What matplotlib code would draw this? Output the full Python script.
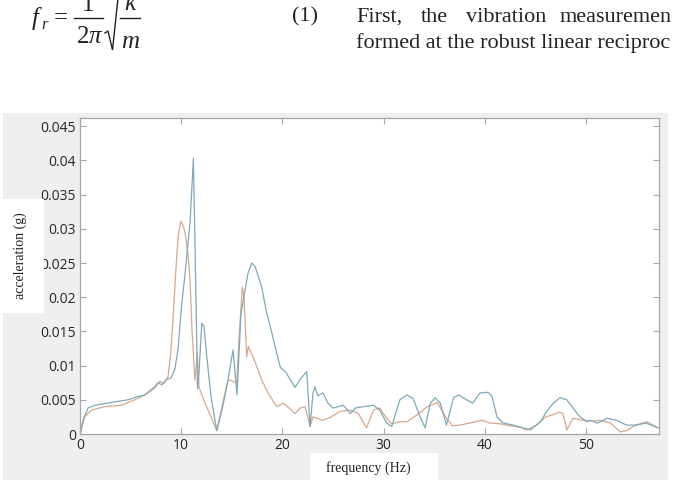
import matplotlib
matplotlib.use("Agg")
import matplotlib.pyplot as plt
from matplotlib.patches import Rectangle
from matplotlib.lines import Line2D

# ---- data ----
freq_blue = [0.0, 0.3, 0.79, 1.45, 3.06, 4.74, 5.73, 6.39, 7.38, 7.71, 8.1, 8.5, 8.99, 9.36,
             9.68, 10.05, 10.35, 10.6, 10.87, 11.2, 11.46, 11.61, 11.76, 12.03, 12.25, 12.55,
             12.94, 13.51, 14.03, 14.62, 15.12, 15.51, 15.9, 16.3, 16.6, 16.97, 17.3, 17.95,
             18.4, 18.95, 19.4, 19.8, 20.3, 20.75, 21.25, 21.74, 22.4, 22.73, 23.02, 23.2,
             23.5, 24.0, 24.5, 25.0, 26.0, 26.7, 27.2, 28.0, 29.0, 29.6, 30.3, 30.8, 31.6,
             32.3, 32.9, 33.6, 34.1, 34.6, 35.1, 35.6, 36.2, 36.9, 37.4, 38.2, 38.8, 39.5,
             40.3, 40.7, 41.2, 41.8, 42.8, 43.5, 44.5, 45.5, 46.1, 46.7, 47.4, 48.1, 48.6,
             49.4, 50.1, 50.4, 51.1, 52.1, 53.0, 54.0, 55.0, 55.9, 57.1]
acc_blue = [0.0, 0.002, 0.0038, 0.0042, 0.0046, 0.005, 0.0055, 0.0057, 0.0069, 0.0075, 0.0072,
            0.0079, 0.0082, 0.0094, 0.0123, 0.019, 0.023, 0.0269, 0.0308, 0.0403, 0.0196,
            0.0066, 0.009, 0.0162, 0.0157, 0.011, 0.0055, 0.0005, 0.0035, 0.0079, 0.0123,
            0.0057, 0.0175, 0.021, 0.0235, 0.025, 0.0245, 0.0215, 0.018, 0.0148, 0.012, 0.0097,
            0.0091, 0.008, 0.0068, 0.008, 0.0091, 0.0011, 0.006, 0.0069, 0.0056, 0.006,
            0.0045, 0.0038, 0.0042, 0.003, 0.0038, 0.004, 0.0042, 0.0035, 0.0016, 0.0011,
            0.005, 0.0057, 0.0052, 0.0025, 0.0009, 0.0045, 0.0053, 0.0045, 0.0013, 0.0053,
            0.0057, 0.005, 0.0045, 0.006, 0.0061, 0.0055, 0.0025, 0.0016, 0.0013, 0.001,
            0.0006, 0.0018, 0.0033, 0.0044, 0.0053, 0.005, 0.004, 0.0025, 0.0018, 0.002,
            0.0016, 0.0023, 0.002, 0.0013, 0.0013, 0.0016, 0.0009]

freq_orange = [0.0, 0.46, 1.12, 2.44, 4.08, 5.4, 6.39, 7.38, 7.88, 8.3, 8.7, 8.96, 9.19, 9.45,
               9.7, 9.98, 10.18, 10.38, 10.7, 10.87, 11.07, 11.36, 11.59, 11.76, 12.35, 12.94,
               13.51, 14.03, 14.62, 15.02, 15.48, 15.71, 16.04, 16.2, 16.47, 16.63, 17.3,
               17.95, 18.58, 19.44, 20.06, 20.65, 21.25, 21.74, 22.23, 22.73, 23.02, 24.0,
               24.7, 25.7, 26.7, 27.5, 28.3, 29.0, 29.6, 30.2, 30.8, 31.6, 32.3, 33.3, 34.3,
               35.3, 36.1, 36.8, 37.5, 38.5, 39.7, 40.5, 41.5, 42.5, 43.5, 44.1, 45.0, 46.0,
               46.7, 47.4, 47.7, 48.1, 48.7, 49.7, 50.7, 51.4, 52.4, 53.4, 54.0, 54.9, 56.0,
               57.1]
acc_orange = [0.0, 0.0025, 0.0035, 0.004, 0.0042, 0.005, 0.0057, 0.0067, 0.0077, 0.0074,
              0.0084, 0.0118, 0.0167, 0.0235, 0.029, 0.0311, 0.0305, 0.0294, 0.0259, 0.0225,
              0.015, 0.0079, 0.0118, 0.0068, 0.0045, 0.0025, 0.0005, 0.004, 0.0079, 0.0078,
              0.0074, 0.014, 0.0215, 0.02, 0.0113, 0.0128, 0.0105, 0.0079, 0.006, 0.004,
              0.0045, 0.0038, 0.003, 0.0038, 0.004, 0.0011, 0.0025, 0.002, 0.0024, 0.0033,
              0.0035, 0.003, 0.0009, 0.0035, 0.0038, 0.0025, 0.0015, 0.0018, 0.0018, 0.0028,
              0.004, 0.0046, 0.0025, 0.0012, 0.0013, 0.0016, 0.002, 0.0016, 0.0015, 0.0012,
              0.001, 0.0006, 0.0012, 0.0025, 0.0028, 0.0032, 0.003, 0.0006, 0.0023, 0.002,
              0.0019, 0.002, 0.0016, 0.0003, 0.0005, 0.0013, 0.0018, 0.0009]

x_ticks = [0, 10, 20, 30, 40, 50]
y_ticks = [0, 0.005, 0.01, 0.015, 0.02, 0.025, 0.03, 0.035, 0.04, 0.045]
y_tick_labels = ['0', '0.005', '0.01', '0.015', '0.02', '0.025', '0.03', '0.035', '0.04', '0.045']

W, H = 673, 490
fig = plt.figure(figsize=(W / 100, H / 100), dpi=100)
fig.patch.set_facecolor('white')
TXT = '#222222'


def fx(px):
    return px / W


def fy(py):
    return 1 - py / H


def box(x0, y0, x1, y1, color, z):
    fig.patches.append(Rectangle((fx(x0), fy(y1)), (x1 - x0) / W, (y1 - y0) / H,
                                 transform=fig.transFigure, facecolor=color,
                                 edgecolor='none', zorder=z))


def pline(xs, ys, lw=1.0):
    fig.lines.append(Line2D([fx(v) for v in xs], [fy(v) for v in ys], transform=fig.transFigure,
                            color=TXT, lw=lw, solid_joinstyle='miter'))


# grey figure panel
box(3, 113, 668, 480, '#efefef', -5)

ax = fig.add_axes([fx(80), fy(434), 579 / W, 316 / H])
ax.set_facecolor('white')
ax.plot(freq_orange, acc_orange, color='#d6a98d', lw=0.9)
ax.plot(freq_blue, acc_blue, color='#7fa9b8', lw=0.9)
ax.set_xlim(0, 57.2)
ax.set_ylim(0, 0.0462)
ax.set_xticks(x_ticks)
ax.set_yticks(y_ticks)
ax.set_yticklabels(y_tick_labels)
for s in ax.spines.values():
    s.set_color('#a6a6a6')
    s.set_linewidth(0.9)
ax.tick_params(direction='in', top=True, right=True, length=4, width=0.8,
               color='#a6a6a6', labelcolor='#262626', labelsize=10, pad=3)
for lab in ax.get_xticklabels() + ax.get_yticklabels():
    lab.set_family('Open Sans')

# white label boxes (drawn above the axes)
box(3, 199, 44, 313, 'white', 10)
box(310, 453, 438, 480, 'white', 10)
fig.text(fx(20), fy(256), 'acceleration (g)', rotation=90, ha='center', va='center',
         family='Liberation Serif', fontsize=10, color=TXT, zorder=11)
fig.text(fx(368), fy(468), 'frequency (Hz)', ha='center', va='center',
         family='Liberation Serif', fontsize=10, color=TXT, zorder=11)

# ---- page text above the figure: equation (1) ----
serif = 'Liberation Serif'
fig.text(fx(32), fy(25), 'f', family=serif, style='italic', fontsize=18, va='baseline', color=TXT)
fig.text(fx(41), fy(29), 'r', family=serif, style='italic', fontsize=12, va='baseline', color=TXT)
fig.text(fx(61), fy(18), '=', family=serif, fontsize=18, ha='center', va='center', color=TXT)
pline([74, 103], [18, 18])
fig.text(fx(88), fy(11), '1', family=serif, fontsize=18, ha='center', va='baseline', color=TXT)
fig.text(fx(89), fy(43), '2', family=serif, fontsize=18, ha='right', va='baseline', color=TXT)
fig.text(fx(89), fy(43), 'π', family=serif, style='italic', fontsize=18, ha='left',
         va='baseline', color=TXT)
pline([105, 108, 112.5, 118, 143], [33, 31, 50, -2, -2], lw=1.0)
fig.text(fx(130), fy(10), 'k', family=serif, style='italic', fontsize=18, ha='center',
         va='baseline', color=TXT)
pline([120, 140], [18, 18])
fig.text(fx(130), fy(48), 'm', family=serif, style='italic', fontsize=18, ha='center',
         va='baseline', color=TXT)

fig.text(fx(292), fy(17), '(1)', family=serif, fontsize=16, va='center', ha='left', color=TXT)
for word, xp in [('First,', 356), ('the', 421), ('vibration', 466), ('measuremen', 560)]:
    fig.text(fx(xp), fy(17), word, family=serif, fontsize=16, va='center', ha='left', color=TXT)
fig.text(fx(356), fy(43), 'formed at the robust linear reciproc', family=serif,
         fontsize=16, va='center', ha='left', color=TXT)

fig.savefig('out.png', dpi=100)
